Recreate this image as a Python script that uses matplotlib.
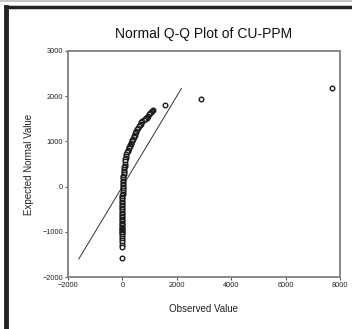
import matplotlib
matplotlib.use("Agg")
import matplotlib.pyplot as plt
from matplotlib.lines import Line2D

# Q-Q points (observed CU-PPM vs expected normal value)
observed = [
    7720, 2900, 1555, 1125, 1100, 1070, 1030, 990, 960, 920, 890, 857, 820,
    780, 740, 700, 670, 640, 610, 580, 545, 515, 490, 470, 450, 430, 410,
    390, 365, 340, 320, 300, 285, 268, 250, 230, 210, 190, 170, 147, 135,
    120, 110, 100, 92, 85, 78, 70, 62, 55, 48, 40, 32, 24, 20, 15, 12, 10,
    9, 8, 7, 6, 6, 5, 5, 5, 4, 4, 4, 3, 3, 3, 3, 2, 2, 2, 2, 2, 1, 1, 1,
    1, 1, 1, 1, 0, 0, 0, 0, 0, 0, 0, 0, 0, 0, 0,
]
expected = [
    2175, 1938, 1810, 1700, 1680, 1660, 1628, 1600, 1570, 1540, 1525, 1510,
    1490, 1470, 1445, 1422, 1395, 1370, 1335, 1300, 1270, 1237, 1210, 1180,
    1150, 1120, 1090, 1053, 1025, 1000, 975, 950, 925, 905, 880, 850, 820,
    790, 755, 720, 680, 640, 600, 560, 510, 462, 425, 390, 355, 320, 280,
    240, 205, 168, 135, 100, 65, 30, -5, -40, -80, -120, -155, -190, -225,
    -260, -295, -330, -365, -400, -435, -470, -505, -540, -575, -610, -645,
    -680, -710, -740, -770, -800, -830, -860, -890, -920, -945, -970, -990,
    -1010, -1030, -1050, -1090, -1130, -1180, -1230,
]
outlier_obs = [0, 0, 0]
outlier_exp = [-1290, -1340, -1580]
ref_line_x = [-1600, 2170]
ref_line_y = [-1600, 2170]

x_ticks = [-2000, 0, 2000, 4000, 6000, 8000]
y_ticks = [-2000, -1000, 0, 1000, 2000, 3000]

plt.rcParams['font.family'] = ['Liberation Sans', 'DejaVu Sans']

fig = plt.figure(figsize=(3.52, 3.29), dpi=100, facecolor='white')

# frame around the panel
fig.add_artist(Line2D([0, 1], [0.998, 0.998], color='#bbbbbb', lw=1.2))
fig.add_artist(Line2D([0.017, 1], [0.979, 0.979], color='#222222', lw=2.5))
fig.add_artist(Line2D([0.017, 0.017], [0, 0.979], color='#222222', lw=3.5))

ax = fig.add_axes([0.193, 0.158, 0.773, 0.687])
ax.plot(ref_line_x, ref_line_y, color='#333333', lw=0.7, zorder=2)
ax.scatter(observed + outlier_obs, expected + outlier_exp, s=11,
           facecolors='white', edgecolors='#1a1a1a', linewidths=1.0, zorder=3)

ax.set_xlim(-2000, 8000)
ax.set_ylim(-2000, 3000)
ax.set_xticks(x_ticks)
ax.set_yticks(y_ticks)
ax.tick_params(labelsize=5.3, length=2, width=0.8, color='#555555',
               labelcolor='#222222', pad=1.5)

for sp in ax.spines.values():
    sp.set_color('#888888')
    sp.set_linewidth(1.4)

ax.set_title('Normal Q-Q Plot of CU-PPM', fontsize=10, color='#111111', pad=9)
ax.set_xlabel('Observed Value', fontsize=7, color='#222222', labelpad=11)
ax.set_ylabel('Expected Normal Value', fontsize=7, color='#222222', labelpad=6)

fig.savefig('out.png', dpi=100, facecolor='white')
